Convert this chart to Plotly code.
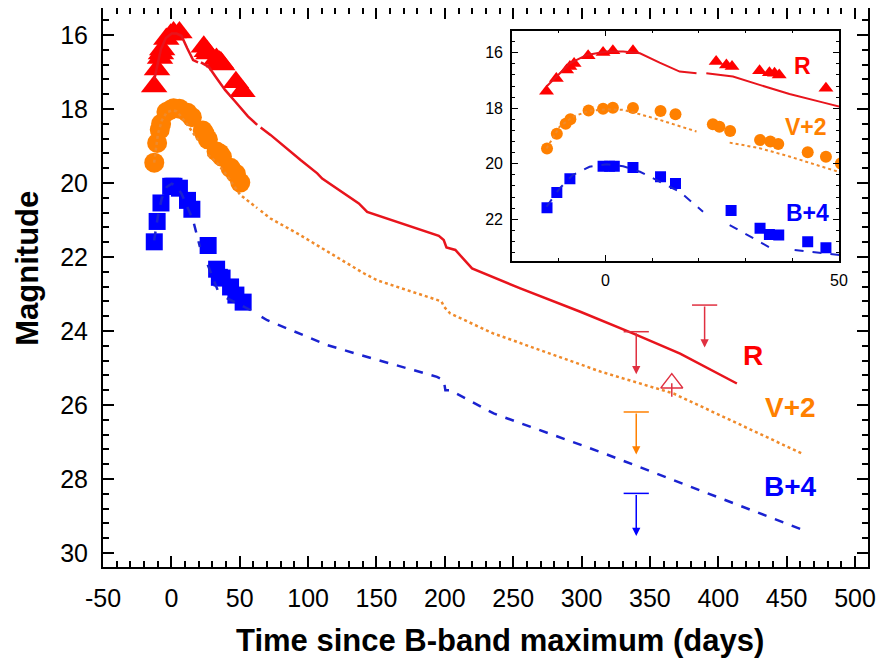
import plotly.graph_objects as go

# ---------------- data (days since B max, displayed magnitudes) ----------------
r_t = [-12.6, -10.5, -8.3, -7.6, -6.7, -3.7, -0.5, 1.6, 5.9, 23.7, 25.9, 27.1,
       33.0, 35.1, 36.2, 37.2, 47.2, 52.0]
r_mag = [17.39, 16.93, 16.62, 16.50, 16.39, 16.11, 15.99, 15.93, 15.93, 16.32, 16.44, 16.50,
         16.65, 16.72, 16.74, 16.80, 17.28, 17.52]

v_t = [-12.5, -10.4, -8.5, -7.5, -3.6, -0.5, 1.6, 5.9, 11.8, 15.0, 23.0, 24.4,
       26.7, 33.1, 35.3, 37.0, 43.3, 47.2, 50.4]
v_mag = [19.45, 18.92, 18.56, 18.40, 18.08, 18.02, 17.98, 17.99, 18.10, 18.22, 18.58, 18.67,
         18.82, 19.15, 19.20, 19.29, 19.59, 19.75, 19.99]

b_t = [-12.5, -10.4, -7.6, -0.5, 0.9, 1.9, 5.9, 11.8, 15.0, 26.9, 33.1, 35.1,
       37.1, 43.3, 47.2, 52.5]
b_mag = [21.59, 21.04, 20.54, 20.09, 20.09, 20.09, 20.14, 20.47, 20.71, 21.69, 22.33, 22.55,
         22.57, 22.81, 23.03, 23.22]

# model light curves (None = gap)
r_model_t = [-12.6, -10.5, -7.6, -4.0, 0.3, 3.8, 7.4, 11.6, 15.9, 19.5, None,
             21.6, 27.3, 33.0, 39.4, 46.5, 50.4, 56.0, 62.8, None,
             65.3, 72.5, 94.5, 106.7, 110.3, 133.4, 137.1, 143.2, 150.5, 195.6,
             199.2, 201.2, 207.7, 219.9, 255.2, 299.1, 338.0, 372.1, 413.6]
r_model_mag = [17.22, 16.86, 16.38, 16.08, 15.96, 15.96, 16.02, 16.36, 16.68, 16.74, None,
               16.74, 16.86, 17.16, 17.49, 17.79, 17.97, 18.20, 18.43, None,
               18.50, 18.70, 19.38, 19.74, 19.88, 20.46, 20.55, 20.78, 20.87, 21.43,
               21.54, 21.74, 21.81, 22.31, 22.85, 23.48, 24.07, 24.61, 25.42]

v_model_t = [-12.6, -9.8, -7.0, -3.4, 0.3, 3.8, 7.4, 11.6, 19.5, None,
             26.6, 33.0, 39.4, 46.5, 50.4, 62.8, None,
             65.3, 72.5, 92.0, 140.7, 150.5, 194.3, 197.5, 199.5, 204.0, 235.7,
             299.1, 314.0, 367.2, 461.0]
v_model_mag = [19.45, 18.67, 18.31, 18.09, 18.04, 18.06, 18.22, 18.42, 18.84, None,
               19.24, 19.44, 19.74, 20.10, 20.32, 20.68, None,
               20.75, 20.96, 21.36, 22.44, 22.63, 23.17, 23.20, 23.35, 23.53, 24.07,
               24.92, 25.10, 25.69, 27.31]

b_model_t = [-12.6, -9.8, -7.0, -3.4, 0.3, 3.8, 7.4, 11.6, 15.9, 20.9, None,
             26.6, 35.5, None, 40.5, 50.4, 58.1, None,
             66.0, 70.1, 114.0, 138.3, 194.3, 199.2, 200.4, 204.0, 235.7,
             299.1, 313.7, 459.9]
b_model_mag = [21.55, 20.89, 20.41, 20.11, 20.02, 20.09, 20.29, 20.65, 21.01, 21.73, None,
               22.21, 23.05, None, 23.11, 23.29, 23.44, None,
               23.62, 23.71, 24.38, 24.65, 25.24, 25.33, 25.60, 25.60, 26.23,
               27.06, 27.27, 29.35]

# upper limits
r_ul_t = [340.0, 390.0]
r_ul_mag = [24.02, 23.30]
v_ul_t = [340.0]
v_ul_mag = [26.19]
b_ul_t = [340.0]
b_ul_mag = [28.39]
ul_len = 1.15

# late R detection (open triangle)
r_late_t = [366.0]
r_late_mag = [25.41]
r_late_err = [0.37]

# tick labels (ASCII hyphen minus as in the original)
x_tick_vals = [-50, 0, 50, 100, 150, 200, 250, 300, 350, 400, 450, 500]
x_tick_text = ["-50", "0", "50", "100", "150", "200", "250", "300", "350", "400", "450", "500"]

x_title = "Time since B-band maximum (days)"
y_title = "Magnitude"

# ---------------- style ----------------
RED, RED_LINE, RED_UL = "#ff0000", "#e8141c", "#e03040"
ORANGE, ORANGE_LINE = "#ff8000", "#f08a2a"
BLUE, BLUE_LINE = "#0000ff", "#1a22d0"
FONT = "Liberation Sans, Arial, sans-serif"

fig = go.Figure()


def add_band(xa, ya, t, m, sym, col, msize, mt, mm, lcol, dash, lw):
    fig.add_trace(go.Scatter(x=t, y=m, mode="markers", xaxis=xa, yaxis=ya,
                             marker=dict(symbol=sym, color=col, size=msize, line=dict(width=0))))
    fig.add_trace(go.Scatter(x=mt, y=mm, mode="lines", xaxis=xa, yaxis=ya,
                             line=dict(color=lcol, dash=dash, width=lw), connectgaps=False))


for xa, ya, sizes, lw in [("x", "y", (23, 20, 17), 2.5), ("x2", "y2", (13, 12, 11), 2)]:
    add_band(xa, ya, r_t, r_mag, "triangle-up", RED, sizes[0], r_model_t, r_model_mag, RED_LINE, "solid", lw)
    add_band(xa, ya, v_t, v_mag, "circle", ORANGE, sizes[1], v_model_t, v_model_mag, ORANGE_LINE, "dot", lw)
    add_band(xa, ya, b_t, b_mag, "square", BLUE, sizes[2], b_model_t, b_model_mag, BLUE_LINE, "dash", lw)

# upper-limit caps
for t, m, c in [(r_ul_t, r_ul_mag, RED_UL), (v_ul_t, v_ul_mag, ORANGE), (b_ul_t, b_ul_mag, BLUE)]:
    fig.add_trace(go.Scatter(x=t, y=m, mode="markers",
                             marker=dict(symbol="line-ew", size=18, color=c, line=dict(color=c, width=1.5))))

# late open triangle
fig.add_trace(go.Scatter(x=r_late_t, y=r_late_mag, mode="markers",
                         marker=dict(symbol="triangle-up-open", size=19, color=RED_UL,
                                     line=dict(color=RED_UL, width=1.5)),
                         error_y=dict(type="data", symmetric=False, array=r_late_err,
                                      arrayminus=[0], width=0, thickness=1.5, color=RED_UL)))

annotations = []
for t, m, c in [(r_ul_t, r_ul_mag, RED_UL), (v_ul_t, v_ul_mag, ORANGE), (b_ul_t, b_ul_mag, BLUE)]:
    for ti, mi in zip(t, m):
        annotations.append(dict(x=ti, y=mi + ul_len, ax=ti, ay=mi, xref="x", yref="y",
                                axref="x", ayref="y", text="", showarrow=True,
                                arrowhead=2, arrowsize=1.1, arrowwidth=1.5, arrowcolor=c,
                                standoff=0, startstandoff=0))

labels_main = [("R", 425.7, 24.65, RED), ("V+2", 452.5, 26.07, ORANGE), ("B+4", 452.7, 28.21, BLUE)]
for txt, x, y, c in labels_main:
    annotations.append(dict(x=x, y=y, xref="x", yref="y", text=txt, showarrow=False,
                            font=dict(family=FONT, size=28, color=c, weight="bold")))
labels_inset = [("R", 42.2, 16.49, RED), ("V+2", 42.9, 18.67, ORANGE), ("B+4", 43.3, 21.77, BLUE)]
for txt, x, y, c in labels_inset:
    annotations.append(dict(x=x, y=y, xref="x2", yref="y2", text=txt, showarrow=False,
                            font=dict(family=FONT, size=23, color=c, weight="bold")))

# axis titles
annotations.append(dict(text=x_title, xref="paper", yref="paper", x=0.5186, y=-0.1312,
                        xanchor="center", yanchor="middle", showarrow=False,
                        font=dict(family=FONT, size=31, color="black", weight="bold")))
annotations.append(dict(text=y_title, xref="paper", yref="paper", x=-0.0986, y=0.5346,
                        xanchor="center", yanchor="middle", showarrow=False, textangle=-90,
                        font=dict(family=FONT, size=31, color="black", weight="bold")))

axis_common = dict(showgrid=False, zeroline=False, ticks="inside", mirror="ticks",
                   showline=True, linecolor="black", tickcolor="black", automargin=False)

# page body adds an 8px offset, so the figure is 8px smaller and margins are shifted
fig.update_layout(
    width=877, height=655,
    margin=dict(l=94.5, r=17, t=0, b=96.3, autoexpand=False),
    paper_bgcolor="white", plot_bgcolor="white",
    showlegend=False,
    font=dict(family=FONT, color="black"),
    annotations=annotations,
    xaxis=dict(**axis_common, range=[-50, 509.5], tickmode="array", tickvals=x_tick_vals,
               ticktext=x_tick_text, ticklen=11, tickwidth=1.5,
               linewidth=2, tickfont=dict(size=25), ticklabelstandoff=8,
               minor=dict(dtick=10, tick0=0, ticklen=6, ticks="inside", tickwidth=1.5, tickcolor="black")),
    yaxis=dict(**axis_common, range=[30.38, 15.27], tick0=16, dtick=2, ticklen=11, tickwidth=1.5,
               linewidth=2, tickfont=dict(size=25), ticklabelstandoff=8,
               minor=dict(dtick=0.4, tick0=16, ticklen=6, ticks="inside", tickwidth=1.5, tickcolor="black")),
    xaxis2=dict(**axis_common, domain=[0.5346, 0.9621], anchor="y2", range=[-20, 50], tick0=0, dtick=50,
                ticklen=6, tickwidth=1.2, linewidth=1.5, tickfont=dict(size=16), ticklabelstandoff=4,
                minor=dict(dtick=10, tick0=0, ticklen=3, ticks="inside", tickwidth=1.2, tickcolor="black")),
    yaxis2=dict(**axis_common, domain=[0.5477, 0.9594], anchor="x2", range=[23.5, 15.207], tick0=16, dtick=2,
                ticklen=6, tickwidth=1.2, linewidth=1.5, tickfont=dict(size=16), ticklabelstandoff=4,
                minor=dict(dtick=0.4, tick0=16, ticklen=3, ticks="inside", tickwidth=1.2, tickcolor="black")),
)

fig.write_html("out.html")
